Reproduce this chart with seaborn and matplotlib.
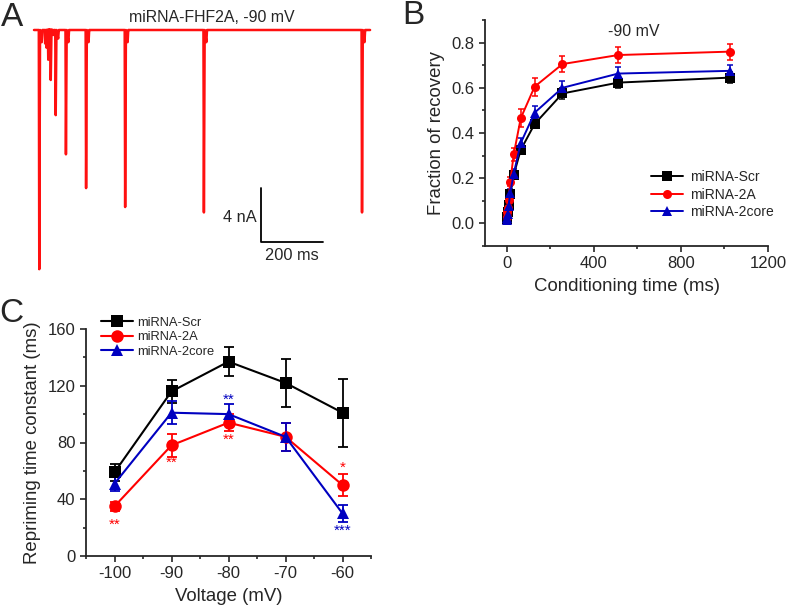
import numpy as np
import pandas as pd
import matplotlib
matplotlib.use('Agg')
import matplotlib.pyplot as plt
from matplotlib.lines import Line2D
from matplotlib.ticker import MultipleLocator, FormatStrFormatter
import seaborn as sns

# ---------------- DATA ----------------
groups = ['miRNA-Scr', 'miRNA-2A', 'miRNA-2core']
colors = {'miRNA-Scr': '#000000', 'miRNA-2A': '#ff0000', 'miRNA-2core': '#0000c0'}
markers = {'miRNA-Scr': 's', 'miRNA-2A': 'o', 'miRNA-2core': '^'}

# panel A: sodium current trace events (ms, nA)
spike_times = [17, 36, 40, 46, 54, 70, 103, 168, 294, 548, 1058]
spike_amps = [17.7, 1.0, 1.3, 2.2, 3.7, 6.3, 9.2, 11.7, 13.1, 13.5, 13.5]
trace_end = 1084

# panel B: recovery from inactivation at -90 mV
cond_time = [1, 2, 4, 8, 16, 32, 64, 128, 256, 512, 1024]
rec_scr = [0.02, 0.03, 0.05, 0.08, 0.13, 0.215, 0.325, 0.44, 0.575, 0.623, 0.645]
rec_2a = [0.03, 0.05, 0.07, 0.105, 0.185, 0.305, 0.465, 0.605, 0.705, 0.745, 0.76]
rec_2core = [0.015, 0.025, 0.04, 0.075, 0.135, 0.22, 0.355, 0.49, 0.60, 0.663, 0.675]
err_scr = [0.01, 0.01, 0.01, 0.012, 0.015, 0.015, 0.02, 0.02, 0.025, 0.025, 0.025]
err_2a = [0.01, 0.01, 0.012, 0.015, 0.02, 0.03, 0.04, 0.04, 0.035, 0.035, 0.035]
err_2core = [0.01, 0.01, 0.01, 0.012, 0.015, 0.02, 0.025, 0.03, 0.03, 0.028, 0.025]

# panel C: repriming time constant
voltage = [-100, -90, -80, -70, -60]
tau_scr = [59, 116, 137, 122, 101]
tau_2a = [35, 78, 94, 84, 50]
tau_2core = [51, 101, 100, 84, 30]
tau_err_scr = [6, 8, 10, 17, 24]
tau_err_2a = [3, 8, 6, 10, 8]
tau_err_2core = [5, 8, 7, 10, 6]

star_text = ['**', '**', '**', '**', '*', '***']
star_x = [-100, -90, -80, -80, -60, -60]
star_y = [22, 66, 110, 82, 62, 18]
star_group = ['miRNA-2A', 'miRNA-2A', 'miRNA-2core', 'miRNA-2A', 'miRNA-2A', 'miRNA-2core']

# ---------------- STYLE ----------------
sns.set_style('ticks')
plt.rcParams['font.family'] = ['Liberation Sans', 'DejaVu Sans']
plt.rcParams['axes.unicode_minus'] = False
plt.rcParams['xtick.direction'] = 'out'
plt.rcParams['ytick.direction'] = 'out'
plt.rcParams['axes.linewidth'] = 1.3

fig = plt.figure(figsize=(7.87, 6.13), dpi=100)
W, H = 787, 613


def px_axes(l, t, r, b):
    return fig.add_axes([l / W, 1 - b / H, (r - l) / W, (b - t) / H])


# ---------------- PANEL A ----------------
axA = px_axes(30, 20, 380, 280)
tx, ty = [0], [0]
for t, a in zip(spike_times, spike_amps):
    tx += [t - 1.5, t, t + 2.5, t + 8, t + 10, t + 14]
    ty += [0, -a, 0, -min(0.9, a * 0.1), 0, 0]
tx.append(trace_end)
ty.append(0)
sns.lineplot(x=tx, y=ty, sort=False, estimator=None, color='#ff1010', linewidth=1.8, ax=axA)
axA.set_xlim(-12.9, 1116)
axA.set_ylim(-18.5, 0.74)
axA.axis('off')
axA.plot([732, 732, 932], [-11.7, -15.7, -15.7], color='black', lw=1.3)
axA.text(719, -13.9, '4 nA', ha='right', va='center', fontsize=11.8)
axA.text(832, -16.7, '200 ms', ha='center', va='center', fontsize=11.8)
fig.text(212 / W, 1 - 17 / H, 'miRNA-FHF2A, -90 mV', ha='center', va='center', fontsize=11.4)

# ---------------- PANEL B ----------------
axB = px_axes(485, 20, 768, 246)
recB = pd.DataFrame({
    'time': cond_time * 3,
    'frac': rec_scr + rec_2a + rec_2core,
    'err': err_scr + err_2a + err_2core,
    'group': [g for g in groups for _ in cond_time],
})
for g in groups:
    d = recB[recB['group'] == g]
    axB.errorbar(d['time'], d['frac'], yerr=d['err'], fmt='none', ecolor=colors[g],
                 elinewidth=1.1, capsize=2.5, capthick=1.1)
sns.lineplot(data=recB, x='time', y='frac', hue='group', style='group', palette=colors,
             markers=markers, dashes=False, markersize=6.5, markeredgewidth=0,
             linewidth=1.4, errorbar=None, legend=False, ax=axB)
axB.set_xlim(-100, 1200)
axB.set_ylim(-0.1, 0.9)
axB.xaxis.set_major_locator(MultipleLocator(400))
axB.xaxis.set_minor_locator(MultipleLocator(200))
axB.yaxis.set_major_locator(MultipleLocator(0.2))
axB.yaxis.set_minor_locator(MultipleLocator(0.1))
axB.yaxis.set_major_formatter(FormatStrFormatter('%.1f'))
axB.tick_params(which='major', length=4, width=1.2, labelsize=12)
axB.tick_params(which='minor', length=2.5, width=1.2)
axB.set_xlabel('Conditioning time (ms)', fontsize=13.4, labelpad=5)
axB.set_ylabel('Fraction of recovery', fontsize=13.4, labelpad=5)
fig.text(634 / W, 1 - 32 / H, '-90 mV', ha='center', va='center', fontsize=11.5)
sns.despine(ax=axB)

handles = [Line2D([], [], color=colors[g], marker=markers[g], markersize=6.5,
                  markeredgewidth=0, lw=1.4) for g in groups]
axB.legend(handles, groups, loc='upper left', bbox_to_anchor=(0.587, 0.335),
           frameon=False, fontsize=10, handlelength=2.3, handletextpad=0.5,
           labelspacing=0.25, borderpad=0, borderaxespad=0)

# ---------------- PANEL C ----------------
axC = px_axes(86, 329, 371, 556)
tauC = pd.DataFrame({
    'voltage': voltage * 3,
    'tau': tau_scr + tau_2a + tau_2core,
    'err': tau_err_scr + tau_err_2a + tau_err_2core,
    'group': [g for g in groups for _ in voltage],
})
for g in groups:
    d = tauC[tauC['group'] == g]
    axC.errorbar(d['voltage'], d['tau'], yerr=d['err'], fmt='none', ecolor=colors[g],
                 elinewidth=1.3, capsize=3.5, capthick=1.3)
sns.lineplot(data=tauC, x='voltage', y='tau', hue='group', style='group', palette=colors,
             markers=markers, dashes=False, markersize=9, markeredgewidth=0,
             linewidth=1.5, errorbar=None, legend=False, ax=axC)
for s, x, y, g in zip(star_text, star_x, star_y, star_group):
    axC.text(x, y, s, ha='center', va='center', color=colors[g], fontsize=11)
axC.set_xlim(-105, -55)
axC.set_ylim(0, 160)
axC.xaxis.set_major_locator(MultipleLocator(10))
axC.xaxis.set_minor_locator(MultipleLocator(5))
axC.yaxis.set_major_locator(MultipleLocator(40))
axC.yaxis.set_minor_locator(MultipleLocator(20))
axC.tick_params(which='major', length=4, width=1.2, labelsize=12)
axC.tick_params(which='minor', length=2.5, width=1.2)
axC.set_xlabel('Voltage (mV)', fontsize=13.4, labelpad=5)
axC.set_ylabel('Repriming time constant (ms)', fontsize=13.4, labelpad=5)
sns.despine(ax=axC)

handles = [Line2D([], [], color=colors[g], marker=markers[g], markersize=9,
                  markeredgewidth=0, lw=1.5) for g in groups]
axC.legend(handles, groups, loc='upper left', bbox_to_anchor=(0.053, 1.055),
           frameon=False, fontsize=9.3, handlelength=2.5, handletextpad=0.3,
           labelspacing=0.2, borderpad=0, borderaxespad=0)

# ---------------- PANEL LETTERS ----------------
fig.text(12 / W, 1 - 17 / H, 'A', ha='center', va='center', fontsize=24)
fig.text(413 / W, 1 - 16 / H, 'B', ha='center', va='center', fontsize=24)
fig.text(11 / W, 1 - 314 / H, 'C', ha='center', va='center', fontsize=24)

fig.savefig('out.png', dpi=100)
